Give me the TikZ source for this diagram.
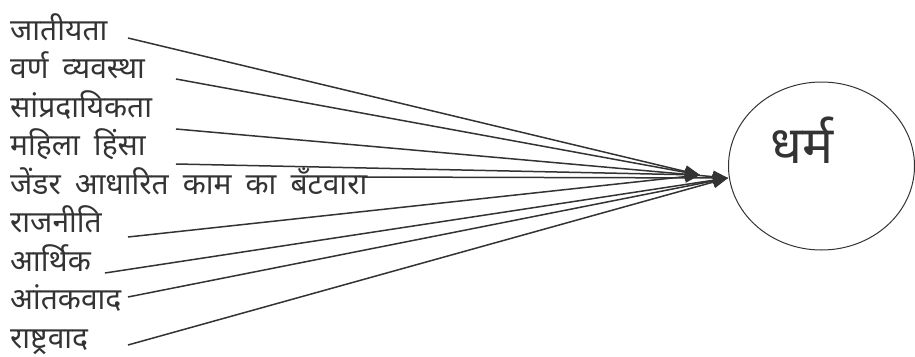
\documentclass[tikz,border=0pt]{standalone}
\usepackage{fontspec}
\setmainfont[Script=Devanagari,WordSpace=1.8]{Noto Sans}
\usetikzlibrary{arrows.meta,shapes.geometric}
\definecolor{ink}{HTML}{333333}
\begin{document}
\begin{tikzpicture}[x=1pt,y=-1pt,
  lbl/.style={anchor=base west,inner sep=0pt,font=\fontsize{30}{34}\selectfont,text=ink},
  conn/.style={draw=ink,line width=1.5pt,-{Triangle[length=15pt,width=12pt]}},
  hub/.style={draw=ink,line width=1pt,ellipse,minimum width=186pt,minimum height=168pt,inner sep=0pt}]
\useasboundingbox (0,0) rectangle (915,356);
\node[lbl] (l1) at (10,40) {जातीयता};
\node[lbl] (l2) at (10,78.5) {वर्ण व्यवस्था};
\node[lbl] (l3) at (10,117) {सांप्रदायिकता};
\node[lbl] (l4) at (10,155.5) {महिला हिंसा};
\node[lbl] (l5) at (10,194) {जेंडर आधारित काम का बँटवारा};
\node[lbl] (l6) at (10,232.5) {राजनीति};
\node[lbl] (l7) at (10,271) {आर्थिक};
\node[lbl] (l8) at (10,309.5) {आंतकवाद};
\node[lbl] (l9) at (10,348) {राष्ट्रवाद};
\node[hub] (d) at (821.5,166) {};
\node[inner sep=0pt,font=\fontsize{52}{58}\selectfont,text=ink] (dt) at (802,140) {धर्म};
\coordinate (ta) at (700,175);
\coordinate (tb) at (728,178);
\coordinate (s1) at (128,38);
\coordinate (s2) at (176,79);
\coordinate (s3) at (176,129);
\coordinate (s4) at (176,164);
\coordinate (s5) at (362,177);
\coordinate (s6) at (128,237);
\coordinate (s7) at (105,273);
\coordinate (s8) at (128,297);
\coordinate (s9) at (128,345);
\draw[conn] (s1) -- (ta);
\draw[conn] (s2) -- (ta);
\draw[conn] (s3) -- (tb);
\draw[conn] (s4) -- (ta);
\draw[conn] (s5) -- (tb);
\draw[conn] (s6) -- (ta);
\draw[conn] (s7) -- (tb);
\draw[conn] (s8) -- (tb);
\draw[conn] (s9) -- (tb);
\end{tikzpicture}
\end{document}
